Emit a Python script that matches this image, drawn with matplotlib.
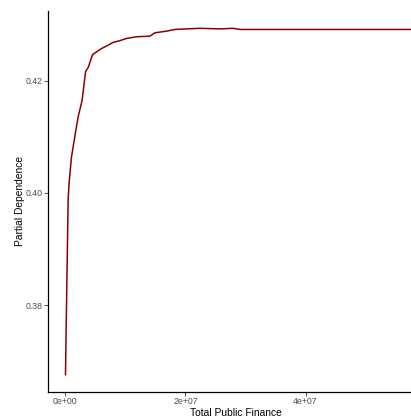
import matplotlib
matplotlib.use("Agg")
import matplotlib.pyplot as plt
from matplotlib.ticker import FixedLocator, FuncFormatter

# ------------------------------------------------------------------
# Data
# ------------------------------------------------------------------
total_public_finance = [
    0.03e6, 0.13e6, 0.30e6, 0.47e6, 0.63e6, 1.03e6, 1.58e6, 2.13e6,
    2.80e6, 3.37e6, 3.80e6, 4.53e6, 5.20e6, 6.03e6, 7.13e6, 7.97e6,
    9.08e6, 10.2e6, 11.87e6, 14.08e6, 14.92e6, 16.87e6, 18.25e6,
    22.4e6, 25.75e6, 27.9e6, 29.1e6, 34.1e6, 58.3e6,
]
partial_dependence = [
    0.3676, 0.3752, 0.3869, 0.3988, 0.4018, 0.4064, 0.4100, 0.4135,
    0.4165, 0.4216, 0.4223, 0.4246, 0.4251, 0.4257, 0.4263, 0.4268,
    0.4271, 0.4275, 0.4278, 0.4279, 0.4285, 0.4288, 0.4291,
    0.4293, 0.4292, 0.4293, 0.4291, 0.4291, 0.4291,
]

x_ticks = [0, 2e7, 4e7]
x_tick_labels = ["0e+00", "2e+07", "4e+07"]
y_ticks = [0.38, 0.40, 0.42]
y_tick_labels = ["0.38", "0.40", "0.42"]

plt.rcParams["font.family"] = ["Liberation Sans", "DejaVu Sans"]

W, H = 411, 418
fig = plt.figure(figsize=(W / 100, H / 100), dpi=100)
# panel runs past the right edge of the picture, as in the cropped reference
ax = fig.add_axes([48 / W, 26 / H, 385 / W, 381 / H])

ax.plot(total_public_finance, partial_dependence, color="#8B0000", lw=1.1,
        solid_joinstyle="round")
ax.margins(x=0.05, y=0.05)

ax.xaxis.set_major_locator(FixedLocator(x_ticks))
ax.xaxis.set_major_formatter(FuncFormatter(lambda v, i: x_tick_labels[i]))
ax.yaxis.set_major_locator(FixedLocator(y_ticks))
ax.yaxis.set_major_formatter(FuncFormatter(lambda v, i: y_tick_labels[i]))

for side in ("top", "right"):
    ax.spines[side].set_visible(False)
for side in ("left", "bottom"):
    ax.spines[side].set_linewidth(0.9)
    ax.spines[side].set_color("black")

ax.tick_params(axis="both", length=2.8, width=0.6, color="#333333",
               labelsize=6.3, labelcolor="#4D4D4D", pad=1.0)

ax.set_xlabel("Total Public Finance", fontsize=7.4)
ax.set_ylabel("Partial Dependence", fontsize=7.4, labelpad=0.5)
ax.xaxis.set_label_coords(0.488, -0.042)
ax.xaxis.label.set_verticalalignment("top")

fig.savefig("out.png", dpi=100)
